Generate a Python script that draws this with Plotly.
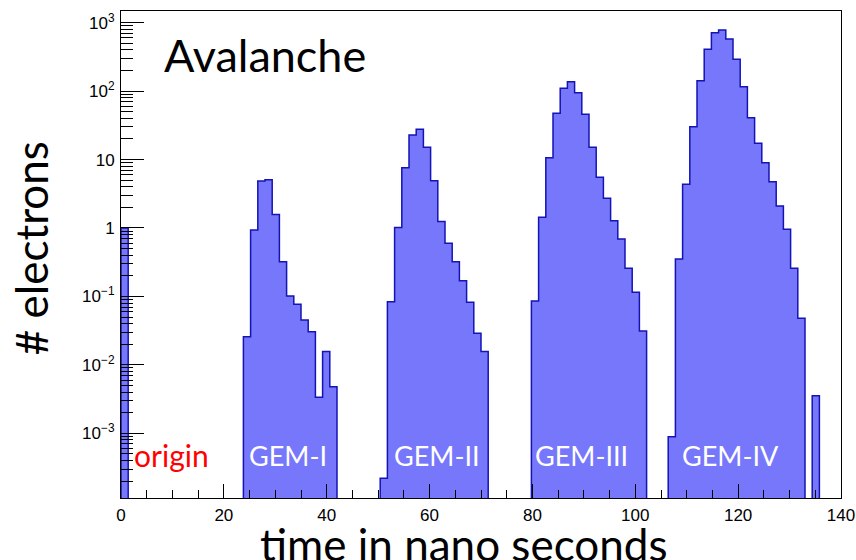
import numpy as np
import plotly.graph_objects as go

# Histogram binning: 100 bins of 1.4 ns over 0-140 ns
BIN_WIDTH = 1.4
N_BINS = 100
T_MAX = 140.0

# Electron counts per bin, grouped by stage (start time of first bin, counts)
origin_start = 0.0
origin_counts = [1.0]

gem1_start = 23.8
gem1_counts = [0.0258, 0.935, 4.87, 5.08, 1.58, 0.321, 0.101, 0.0767,
               0.0452, 0.0305, 0.00335, 0.0156, 0.0048]

gem2_start = 50.4
gem2_counts = [2.2e-4, 0.0837, 1.02, 7.6, 22.9, 27.7, 15.1, 4.91, 1.24,
               0.597, 0.322, 0.170, 0.082, 0.0289, 0.0156]

gem3_start = 79.8
gem3_counts = [0.0857, 1.43, 10.6, 47.4, 110, 137, 94.9, 45.8, 15.1, 5.5,
               2.72, 1.28, 0.69, 0.258, 0.115, 0.0312]

gem4_start = 106.4
gem4_counts = [8.9e-4, 0.352, 4.35, 30.2, 142, 408, 714, 782, 578, 292, 116,
               40.9, 17.3, 9.0, 4.75, 2.09, 0.955, 0.258, 0.0479]

late_start = 134.4
late_counts = [0.00354]

# Stage labels: text, time position (ns), colour
stage_labels = ["origin", "GEM-I", "GEM-II", "GEM-III", "GEM-IV"]
stage_label_x = [2.2, 32.4, 61.5, 89.6, 118.5]
stage_label_colors = ["#ff0000", "white", "white", "white", "white"]

# Axis ticks
x_tick_vals = [0, 20, 40, 60, 80, 100, 120, 140]
y_tick_exps = [-3, -2, -1, 0, 1, 2, 3]
y_tick_text = ["10<sup>\u22123</sup>", "10<sup>\u22122</sup>", "10<sup>\u22121</sup>",
               "1", "10", "10<sup>2</sup>", "10<sup>3</sup>"]

# Assemble the full histogram
counts = np.zeros(N_BINS)
for start, vals in [(origin_start, origin_counts), (gem1_start, gem1_counts),
                    (gem2_start, gem2_counts), (gem3_start, gem3_counts),
                    (gem4_start, gem4_counts), (late_start, late_counts)]:
    i0 = int(round(start / BIN_WIDTH))
    counts[i0:i0 + len(vals)] = vals

edges = np.arange(N_BINS + 1) * BIN_WIDTH
centers = edges[:-1] + BIN_WIDTH / 2
filled = counts > 0

fig = go.Figure()

# Hatched fill of each bin
fig.add_trace(go.Bar(
    x=centers[filled], y=counts[filled], width=BIN_WIDTH,
    marker=dict(
        color="#4848f8",
        line=dict(width=0),
        pattern=dict(shape=".", fgcolor="#b4b4ff", bgcolor="#4848f8",
                     size=2, solidity=0.5, fillmode="replace"),
    ),
    hoverinfo="skip", showlegend=False,
))

# Step outline of the histogram envelope
floor = 1e-8
outline_y = np.where(counts > 0, counts, floor)
fig.add_trace(go.Scatter(
    x=np.concatenate([[0.0], edges]),
    y=np.concatenate([[floor], outline_y, [floor]]),
    mode="lines", line=dict(shape="hv", color="#1414b4", width=1.5),
    hoverinfo="skip", showlegend=False,
))

y_lo, y_hi = -3.946, 3.171
minor_vals = [k * 10.0 ** e for e in range(-4, 4) for k in range(2, 10)
              if y_lo < np.log10(k * 10.0 ** e) < y_hi]

label_font = "Lato, 'Open Sans', sans-serif"
tick_font = dict(family="'Liberation Sans', Arial, sans-serif", size=17, color="black")

for text, xpos, col in zip(stage_labels, stage_label_x, stage_label_colors):
    fig.add_annotation(
        x=xpos, y=-3.32, text=text, showarrow=False,
        xanchor="left" if text == "origin" else "center", yanchor="middle",
        font=dict(family=label_font, size=30 if text == "origin" else 27, color=col),
    )

fig.add_annotation(
    x=8.0, y=2.53, text="Avalanche", showarrow=False,
    xanchor="left", yanchor="middle",
    font=dict(family=label_font, size=45, color="black"),
)

# Axis titles, placed as free text in paper coordinates
fig.add_annotation(
    xref="paper", yref="paper", x=0.475, y=-0.094,
    text="time in nano seconds", showarrow=False,
    xanchor="center", yanchor="middle",
    font=dict(family=label_font, size=44, color="black"),
)
fig.add_annotation(
    xref="paper", yref="paper", x=-0.125, y=0.513,
    text="# electrons", showarrow=False, textangle=-90,
    xanchor="center", yanchor="middle",
    font=dict(family=label_font, size=44, color="black"),
)

fig.update_layout(
    width=856, height=560,
    margin=dict(l=121, r=15, t=11, b=62, autoexpand=False),
    paper_bgcolor="white", plot_bgcolor="white",
    bargap=0,
    xaxis=dict(
        range=[0, T_MAX], tickvals=x_tick_vals, ticks="inside", ticklen=14,
        tickcolor="black", tickwidth=1, automargin=False, ticklabelstandoff=2,
        minor=dict(ticks="inside", ticklen=8, dtick=5, tickcolor="black", showgrid=False),
        showline=True, linecolor="black", linewidth=1, mirror=True,
        showgrid=False, zeroline=False, tickfont=tick_font,
    ),
    yaxis=dict(
        type="log", range=[y_lo, y_hi], automargin=False,
        tickmode="array", tickvals=[10.0 ** e for e in y_tick_exps], ticktext=y_tick_text,
        ticks="inside", ticklen=23, tickcolor="black", tickwidth=1, ticklabelstandoff=2,
        minor=dict(ticks="inside", ticklen=12, tickmode="array", tickvals=minor_vals,
                   tickcolor="black", showgrid=False),
        showline=True, linecolor="black", linewidth=1, mirror=True,
        showgrid=False, zeroline=False, tickfont=tick_font,
    ),
)

fig.write_html("out.html")
